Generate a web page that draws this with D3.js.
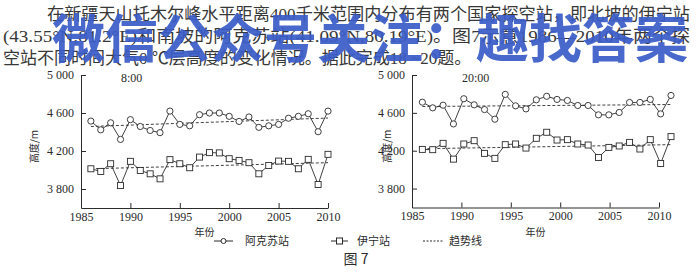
<!DOCTYPE html>
<html>
<head>
<meta charset="utf-8">
<script src="https://cdn.jsdelivr.net/npm/d3@7"></script>
<style>
  body { margin: 0; background: #fff; }
  svg { display: block; }
</style>
</head>
<body>
<svg id="fig" width="700" height="272"></svg>
<script>
// dados (m)
const anos = [1986, 1987, 1988, 1989, 1990, 1991, 1992, 1993, 1994, 1995, 1996, 1997, 1998,
  1999, 2000, 2001, 2002, 2003, 2004, 2005, 2006, 2007, 2008, 2009, 2010];

const aksu8 = [4515, 4423, 4497, 4322, 4530, 4458, 4416, 4393, 4620, 4480, 4465, 4582, 4600,
  4600, 4565, 4511, 4558, 4449, 4465, 4480, 4545, 4565, 4592, 4403, 4620];
const yining8 = [4013, 3985, 4066, 3836, 4091, 3995, 3960, 3907, 4109, 4066, 4024, 4136, 4183,
  4180, 4119, 4101, 4077, 3960, 4048, 4094, 4091, 4013, 4112, 3847, 4165];

const aksu20 = [4713, 4653, 4681, 4483, 4749, 4685, 4635, 4533, 4795, 4674, 4642, 4738, 4775,
  4742, 4731, 4678, 4678, 4579, 4579, 4604, 4710, 4710, 4742, 4589, 4784];
const yining20 = [4214, 4211, 4278, 4111, 4271, 4306, 4172, 4119, 4264, 4271, 4228, 4331, 4395,
  4313, 4317, 4271, 4260, 4129, 4235, 4250, 4288, 4218, 4317, 4065, 4349];

// linhas de tendência (início / fim)
const anosTendencia = [1986, 2010];
const tendAksu8 = [4458, 4547];
const tendYining8 = [4013, 4077];
const tendAksu20 = [4667, 4688];
const tendYining20 = [4221, 4264];

const xTicks = [1985, 1990, 1995, 2000, 2005, 2010];
const yTicks = [3800, 4200, 4600, 5000];
const yTickLabels = ["3 800", "4 200", "4 600", "5 000"];

const texto = [
  "在新疆天山托木尔峰水平距离400千米范围内分布有两个国家探空站，即北坡的伊宁站",
  "(43.55°N,81.2°E)和南坡的阿克苏站(41.09°N,80.19°E)。图7示意1986—2010年两个探",
  "空站不同时间大气0 ℃层高度的变化情况。据此完成18 ~20题。"
];

const ink = "#2b2b2b";
const serif = "'Liberation Serif', 'Noto Sans CJK SC', serif";
const cjk = "'Noto Sans CJK SC', sans-serif";

const svg = d3.select("#fig");

// texto do enunciado
const linhas = [
  { x: 47, y: 20, len: 643 },
  { x: 3, y: 42, len: 687 },
  { x: 3, y: 64, len: null }
];
texto.forEach((t, i) => {
  const el = svg.append("text")
    .attr("x", linhas[i].x)
    .attr("y", linhas[i].y)
    .style("font-family", serif)
    .style("font-size", "17px")
    .style("fill", "#383838")
    .text(t);
  if (linhas[i].len) el.attr("textLength", linhas[i].len).attr("lengthAdjust", "spacingAndGlyphs");
});

// painéis
const paineis = [
  { titulo: "8:00", tituloX: 121, left: 81, right: 328, top: 75, bottom: 208, ptRight: 328,
    aksu: aksu8, yining: yining8, tAksu: tendAksu8, tYining: tendYining8, yLab: 38 },
  { titulo: "20:00", tituloX: 462, left: 412, right: 659, top: 75, bottom: 207.5, ptRight: 671,
    aksu: aksu20, yining: yining20, tAksu: tendAksu20, tYining: tendYining20, yLab: 391 }
];

paineis.forEach(p => {
  const x = d3.scaleLinear().domain([1985, 2010]).range([p.left, p.right]);
  // os pontos do gráfico da direita estão um pouco mais espaçados que os ticks
  const xp = d3.scaleLinear().domain([1985, 2010]).range([p.left, p.ptRight]);
  const y = d3.scaleLinear().domain([3600, 5000]).range([p.bottom, p.top]);

  const g = svg.append("g");

  const eixoY = g.append("g")
    .attr("transform", `translate(${p.left},0)`)
    .call(d3.axisLeft(y).tickValues(yTicks).tickFormat((d, i) => yTickLabels[i])
      .tickSize(-5).tickSizeOuter(0).tickPadding(7));

  const eixoX = g.append("g")
    .attr("transform", `translate(0,${p.bottom})`)
    .call(d3.axisBottom(x).tickValues(xTicks).tickFormat(d3.format("d"))
      .tickSize(-5).tickSizeOuter(0).tickPadding(4));

  [eixoY, eixoX].forEach(a => {
    a.selectAll("path, line").style("stroke", ink).style("stroke-width", 1);
    a.selectAll("text").style("font-family", serif).style("font-size", "12px").style("fill", ink);
  });
  eixoX.selectAll(".tick").filter(d => d === 1985).select("line").remove();

  g.append("text")
    .attr("x", p.tituloX).attr("y", 82)
    .style("font-family", serif).style("font-size", "12px").style("fill", ink)
    .text(p.titulo);

  g.append("text")
    .attr("x", (p.left + p.right) / 2).attr("y", 236)
    .attr("text-anchor", "middle")
    .style("font-family", cjk).style("font-size", "10px").style("fill", ink)
    .text("年份");

  g.append("text")
    .attr("transform", `translate(${p.yLab},${(p.top + p.bottom) / 2 + 5}) rotate(-90)`)
    .attr("text-anchor", "middle")
    .style("font-family", cjk).style("font-size", "10px").style("fill", ink)
    .text("高度/m");

  // tendências
  [p.tAksu, p.tYining].forEach(t => {
    g.append("path")
      .datum(anosTendencia.map((a, i) => [a, t[i]]))
      .attr("d", d3.line().x(d => xp(d[0])).y(d => y(d[1])))
      .style("fill", "none").style("stroke", ink).style("stroke-width", 0.9)
      .style("stroke-dasharray", "3,2");
  });

  const linha = d3.line().x((d, i) => xp(anos[i])).y(d => y(d));

  [p.aksu, p.yining].forEach(s => {
    g.append("path").datum(s).attr("d", linha)
      .style("fill", "none").style("stroke", ink).style("stroke-width", 0.9);
  });

  g.selectAll(".circ").data(p.aksu).enter().append("circle")
    .attr("cx", (d, i) => xp(anos[i])).attr("cy", d => y(d)).attr("r", 3.1)
    .style("fill", "#fff").style("stroke", ink).style("stroke-width", 0.9);

  g.selectAll(".quad").data(p.yining).enter().append("rect")
    .attr("x", (d, i) => xp(anos[i]) - 3).attr("y", d => y(d) - 3)
    .attr("width", 6).attr("height", 6)
    .style("fill", "#fff").style("stroke", ink).style("stroke-width", 0.9);
});

// legenda
const leg = svg.append("g").style("font-family", cjk).style("font-size", "11px").style("fill", ink);
leg.append("line").attr("x1", 214).attr("x2", 233).attr("y1", 241).attr("y2", 241).style("stroke", ink);
leg.append("circle").attr("cx", 223.5).attr("cy", 241).attr("r", 2.5).style("fill", "#fff").style("stroke", ink);
leg.append("text").attr("x", 245).attr("y", 245).text("阿克苏站");
leg.append("line").attr("x1", 331).attr("x2", 348).attr("y1", 241).attr("y2", 241).style("stroke", ink);
leg.append("rect").attr("x", 336.5).attr("y", 238).attr("width", 6).attr("height", 6).style("fill", "#fff").style("stroke", ink);
leg.append("text").attr("x", 357).attr("y", 245).text("伊宁站");
leg.append("line").attr("x1", 423).attr("x2", 444).attr("y1", 241).attr("y2", 241)
  .style("stroke", ink).style("stroke-dasharray", "2,1.5");
leg.append("text").attr("x", 449).attr("y", 245).text("趋势线");

svg.append("text")
  .attr("x", 356).attr("y", 264).attr("text-anchor", "middle")
  .style("font-family", cjk).style("font-size", "14px").style("fill", ink)
  .text("图 7");

// marca d'água azul
svg.append("text")
  .attr("x", 52).attr("y", 58)
  .attr("textLength", 636).attr("lengthAdjust", "spacingAndGlyphs")
  .style("font-family", cjk).style("font-weight", "bold").style("font-size", "52px")
  .style("fill", "#3a5cc8").style("opacity", 0.92)
  .text("微信公众号关注：趣找答案");
</script>
</body>
</html>
